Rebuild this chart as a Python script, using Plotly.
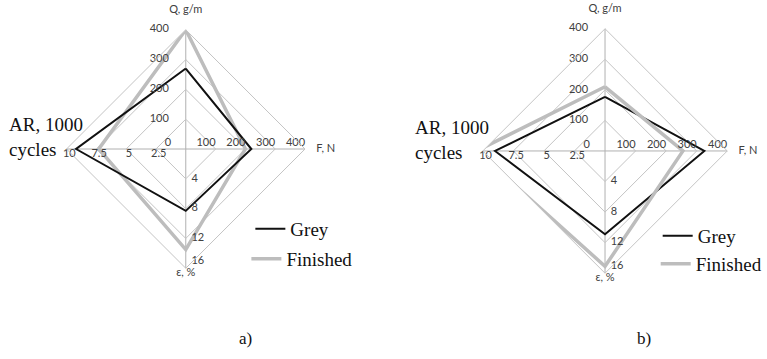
import plotly.graph_objects as go

# ---- data ----
cats = ["Q", "F", "ε", "AR"]
axis_max = [400, 400, 16, 10]
axis_titles = ["Q, g/m", "F, N", "ε, %"]
ar_title = "AR, 1000<br>cycles"

grey_a = [270, 220, 8.3, 9.2]
finished_a = [400, 200, 13.5, 7.3]
grey_b = [177, 325, 10.9, 9.0]
finished_b = [210, 255, 15.1, 10.5]

q_ticks = [100, 200, 300, 400]
f_ticks = [100, 200, 300, 400]
eps_ticks = [4, 8, 12, 16]
ar_ticks = [2.5, 5, 7.5, 10]
zero_label = "0"
ring_fracs = [0.25, 0.5, 0.75, 1.0]

SANS = "Lato"
SERIF = "Liberation Serif"
GRID = "#c4c4c4"
TICKCOL = "#404040"
NB = "\u00a0"


def norm(vals):
    return [v / m for v, m in zip(vals, axis_max)]


def closed(lst):
    return lst + lst[:1]


fig = go.Figure()


def add_chart(sub, grey, fin, black_on_top, leg1, leg2):
    series = [
        ("Finished", fin, "#bdbdbd", 3.5, leg2),
        ("Grey", grey, "#111111", 2.0, leg1),
    ]
    if not black_on_top:
        series = series[::-1]
    for name, vals, col, w, leg in series:
        fig.add_trace(go.Scatterpolar(
            r=closed(norm(vals)), theta=closed(cats), mode="lines",
            line=dict(color=col, width=w), name=name, subplot=sub,
            legend=leg, showlegend=True, hoverinfo="skip"))
    tf = dict(family=SANS, size=11, color=TICKCOL)
    common = dict(textfont=tf, subplot=sub, showlegend=False,
                  hoverinfo="skip", cliponaxis=False, mode="text")
    # Q tick labels
    fig.add_trace(go.Scatterpolar(
        r=[t / axis_max[0] for t in q_ticks], theta=["Q"] * 4,
        text=[f"{t}" + NB * 6 for t in q_ticks], textposition="middle left",
        **common))
    # F tick labels
    fig.add_trace(go.Scatterpolar(
        r=[t / axis_max[1] for t in f_ticks], theta=["F"] * 4,
        text=[f"{t}" for t in f_ticks], textposition="top left",
        **common))
    # eps tick labels (outermost nudged up off the vertex)
    eps_text = [NB * 2 + str(t) for t in eps_ticks]
    eps_text[-1] = eps_text[-1] + "<br>" + NB
    fig.add_trace(go.Scatterpolar(
        r=[t / axis_max[2] for t in eps_ticks], theta=["ε"] * 4,
        text=eps_text, textposition="middle right",
        **common))
    # AR tick labels
    fig.add_trace(go.Scatterpolar(
        r=[t / axis_max[3] for t in ar_ticks], theta=["AR"] * 4,
        text=[NB * 2 + f"{t:g}" for t in ar_ticks], textposition="bottom center",
        **common))
    # zero label, set just left of the centre
    fig.add_trace(go.Scatterpolar(
        r=[0.1], theta=["AR"], text=[zero_label + NB],
        textposition="top left", **common))
    # axis titles
    fig.add_trace(go.Scatterpolar(
        r=[1, 1, 1], theta=cats[:3],
        text=[axis_titles[0] + "<br>" + NB, NB * 4 + axis_titles[1],
              axis_titles[2]],
        textposition=["top center", "middle right", "bottom center"],
        **common))


add_chart("polar", grey_a, finished_a, True, "legend", "legend2")
add_chart("polar2", grey_b, finished_b, False, "legend3", "legend4")

polar_common = dict(
    bgcolor="white",
    gridshape="linear",
    radialaxis=dict(range=[0, 1], tickvals=ring_fracs, showticklabels=False,
                    showline=False, ticks="", gridcolor=GRID, gridwidth=1),
    angularaxis=dict(type="category", categoryarray=cats, rotation=90,
                     direction="clockwise", showticklabels=False, ticks="",
                     linecolor=GRID, linewidth=1, gridcolor="#b0b0b0",
                     gridwidth=1),
)

leg_font = dict(family=SERIF, size=19, color="#111111")


def leg(x, y):
    return dict(x=x, y=y, xref="paper", yref="paper", xanchor="left",
                yanchor="middle", bgcolor="rgba(0,0,0,0)", font=leg_font,
                itemwidth=30, borderwidth=0)


title_font = dict(family=SERIF, size=19, color="#111111")

fig.update_layout(
    width=767, height=359,
    margin=dict(l=0, r=0, t=0, b=0),
    paper_bgcolor="white",
    polar=dict(domain=dict(x=[0.0873, 0.4003], y=[0.2507, 0.9192]),
               **polar_common),
    polar2=dict(domain=dict(x=[0.6336, 0.9544], y=[0.237, 0.922]),
                **polar_common),
    legend=leg(252 / 767, 1 - 229 / 359),
    legend2=leg(248 / 767, 1 - 259 / 359),
    legend3=leg(662 / 767, 1 - 236 / 359),
    legend4=leg(660 / 767, 1 - 264 / 359),
    showlegend=True,
    annotations=[
        dict(text=ar_title, x=7 / 767, y=1 - 137 / 359, xref="paper",
             yref="paper", xanchor="left", yanchor="middle", align="left",
             showarrow=False, font=title_font),
        dict(text=ar_title, x=416 / 767, y=1 - 140 / 359, xref="paper",
             yref="paper", xanchor="left", yanchor="middle", align="left",
             showarrow=False, font=title_font),
        dict(text="a)", x=247 / 767, y=1 - 338 / 359, xref="paper",
             yref="paper", xanchor="center", yanchor="middle",
             showarrow=False, font=dict(family=SERIF, size=17, color="#111111")),
        dict(text="b)", x=648 / 767, y=1 - 338 / 359, xref="paper",
             yref="paper", xanchor="center", yanchor="middle",
             showarrow=False, font=dict(family=SERIF, size=17, color="#111111")),
    ],
)

fig.write_html(
    "out.html",
    config={"displayModeBar": False},
    post_script="document.body.style.margin='0';document.body.style.padding='0';",
)
